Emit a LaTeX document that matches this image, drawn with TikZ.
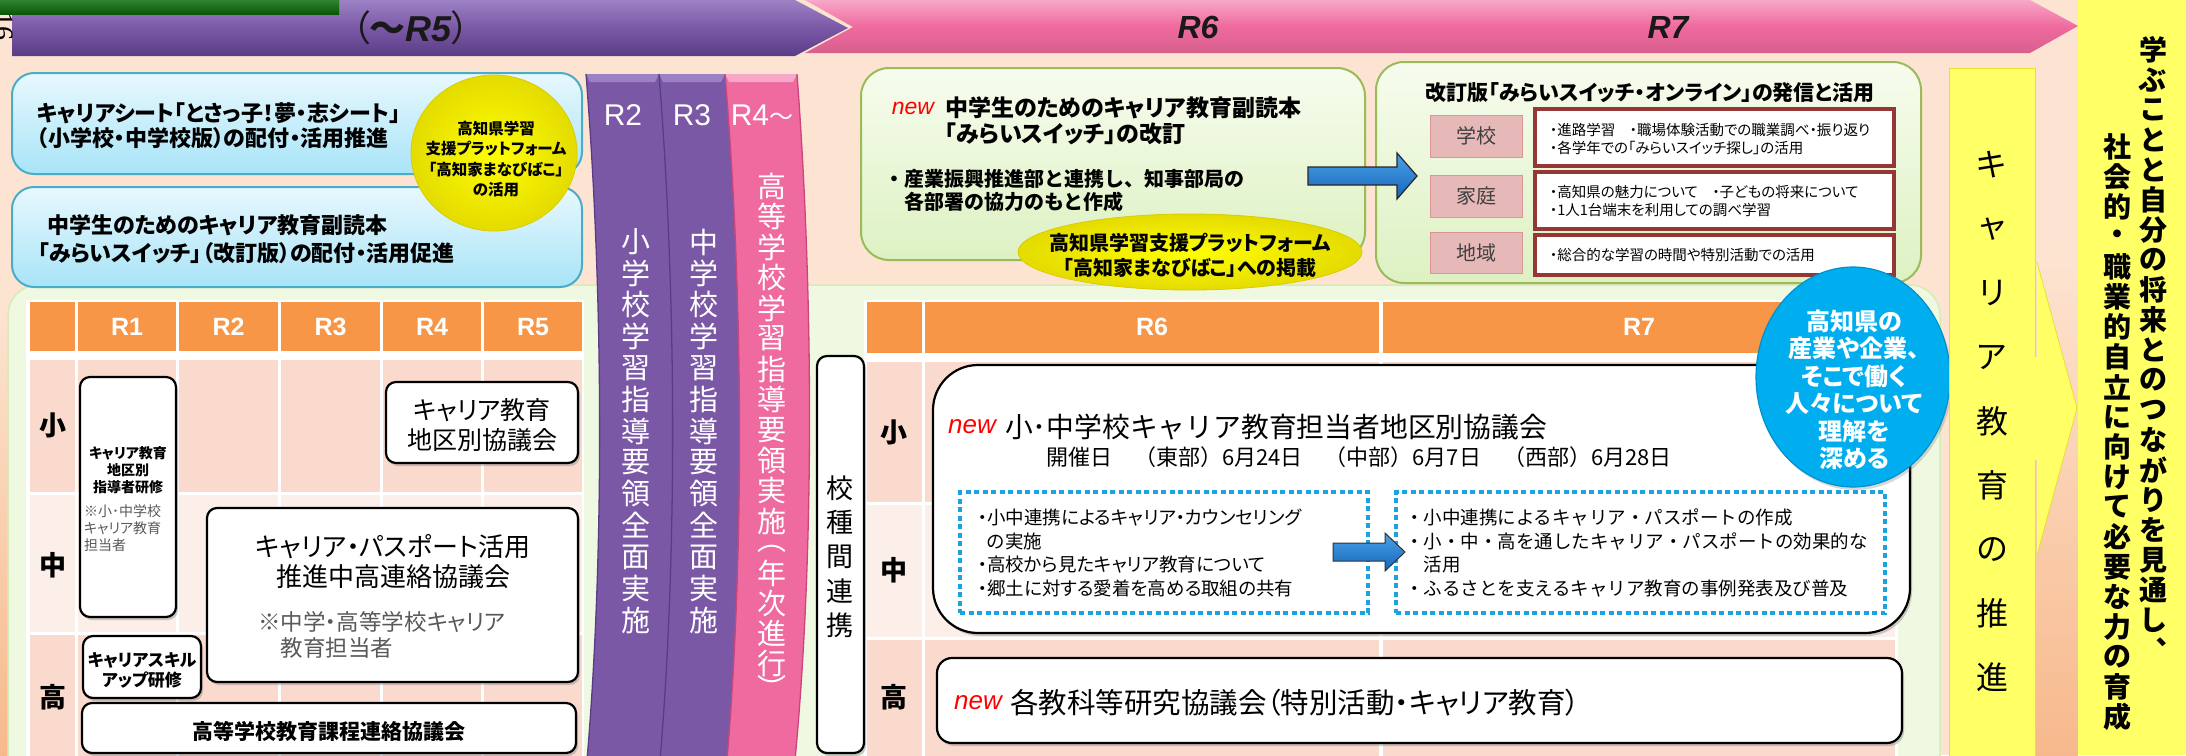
\documentclass[tikz,border=0pt]{standalone}
\usepackage{fontspec}
\setmainfont{Noto Sans CJK JP}[RawFeature={+palt}]
\newfontfamily\jp{Noto Sans CJK JP}
\newfontfamily\lat{Liberation Sans}
\newfontfamily\latser{Liberation Serif}
\usetikzlibrary{shadows,shapes.geometric}
\definecolor{bgpeach}{HTML}{FDE4D2}
\definecolor{bgorange}{HTML}{F7B98C}
\definecolor{dkgreen}{HTML}{0B6E0B}
\definecolor{purp}{HTML}{7B58A6}
\definecolor{purpL}{HTML}{9C82C4}
\definecolor{purpD}{HTML}{5A3C86}
\definecolor{pinkc}{HTML}{EF6A9E}
\definecolor{pinkL}{HTML}{F7A7C7}
\definecolor{pinkD}{HTML}{C9467C}
\definecolor{hdr}{HTML}{F79646}
\definecolor{cellp}{HTML}{FADACD}
\definecolor{celll}{HTML}{FCEEE8}
\definecolor{lgreen}{HTML}{EFF8E0}
\definecolor{lgreenb}{HTML}{D6ECB6}
\definecolor{gbox}{HTML}{DDF1C2}
\definecolor{gboxL}{HTML}{F7FCEE}
\definecolor{gboxb}{HTML}{9BBB59}
\definecolor{lblue}{HTML}{A8E4F8}
\definecolor{lblueL}{HTML}{E8F8FD}
\definecolor{lblueb}{HTML}{4BACC6}
\definecolor{yel}{HTML}{FFFF66}
\definecolor{yelb}{HTML}{FFFF00}
\definecolor{yelD}{HTML}{D9CC00}
\definecolor{labc}{HTML}{E6B9B8}
\definecolor{labb}{HTML}{D99694}
\definecolor{labt}{HTML}{404040}
\definecolor{cboxb}{HTML}{953735}
\definecolor{dotc}{HTML}{1AA3E0}
\definecolor{cir}{HTML}{00AEEF}
\definecolor{cirD}{HTML}{0090CC}
\definecolor{arrB}{HTML}{1565B8}
\definecolor{arrL}{HTML}{4AA3E8}
\definecolor{newred}{HTML}{FF0000}
\definecolor{notegray}{HTML}{595959}
\newcommand{\fsl}[2]{\fontsize{#1}{#2}\selectfont}
\tikzset{
 tx/.style={inner sep=0pt, outer sep=0pt},
 wbox/.style={draw=black, line width=2.2pt, fill=white, rounded corners=10pt, inner sep=0pt,
   drop shadow={opacity=0.4, shadow xshift=2pt, shadow yshift=-3pt}},
 hdrtxt/.style={tx, text=white, font=\lat\bfseries\fsl{25}{25}},
 rowlab/.style={tx, font=\bfseries\fsl{27}{27}},
 bartxt/.style={tx, text=white, font=\lat\fsl{30}{30}},
 barv/.style={tx, text=white, font=\fsl{29}{29}},
 newtxt/.style={tx, text=newred, font=\lat\itshape\fsl{26}{26}},
 dotbox/.style={draw=dotc, line width=4.5pt, dash pattern=on 5pt off 3.5pt, inner sep=0pt},
 lbbox/.style={draw=lblueb, line width=2pt, top color=lblueL, bottom color=lblue, rounded corners=22pt, inner sep=0pt},
 gbbox/.style={draw=gboxb, line width=2pt, top color=gboxL, bottom color=gbox, rounded corners=28pt, inner sep=0pt},
 yell/.style={ellipse, inner sep=0pt, draw=yelD, line width=0.8pt, inner color=yelb, outer color=yelD!70!yelb},
 labcell/.style={fill=labc, draw=labb, line width=1pt, inner sep=0pt, font=\fsl{20}{20}, text=labt},
 cbox/.style={fill=white, draw=cboxb, line width=3.5pt, inner sep=0pt},
 vcol/.style={tx, font=\fsl{32}{32}},
 rcol/.style={tx, font=\bfseries\fsl{28}{28}},
}
\begin{document}
\begin{tikzpicture}[x=1pt,y=-1pt]
\useasboundingbox (0,0) rectangle (2186,755);
\clip (0,0) rectangle (2186,755);
% background
\fill[bgpeach] (0,0) rectangle (2186,755);
\shade[top color=bgpeach, bottom color=bgorange] (0,300) rectangle (9,755);
\shade[top color=bgpeach, bottom color=bgorange] (2035,250) rectangle (2078,755);
% light green panel
\draw[lgreenb, fill=lgreen, line width=1.5pt, rounded corners=30pt] (8,285) rectangle (1940,800);

% ---------- left table ----------
\fill[white] (26,300) rectangle (584,760);
\foreach \a/\b in {30/75,78/176,179/278,281/380,383/481,484/582} {
  \fill[hdr] (\a,302) rectangle (\b,351);
  \fill[cellp] (\a,360) rectangle (\b,492);
  \fill[celll] (\a,495) rectangle (\b,632);
  \fill[cellp] (\a,635) rectangle (\b,760);
}
\node[hdrtxt] (h1) at (127,327) {R1};
\node[hdrtxt] (h2) at (228.5,327) {R2};
\node[hdrtxt] (h3) at (330.5,327) {R3};
\node[hdrtxt] (h4) at (432,327) {R4};
\node[hdrtxt] (h5) at (533,327) {R5};
\node[rowlab] (l1) at (53,425) {小};
\node[rowlab] (l2) at (53,565) {中};
\node[rowlab] (l3) at (53,697) {高};

\node[wbox, minimum width=96pt, minimum height=240pt] (k1) at (128,497) {};
\node[tx, align=center, font=\bfseries\fsl{14}{17}] (k1t) at (128,470) {キャリア教育\\地区別\\指導者研修};
\node[tx, anchor=north west, align=left, text=notegray, font=\fsl{14}{17}] (k1n) at (84,505) {※小･中学校\\キャリア教育\\担当者};

\node[wbox, minimum width=192pt, minimum height=81pt] (k2) at (482,422.5) {};
\node[tx, align=center, font=\fsl{25}{30}] (k2t) at (482,425) {キャリア教育\\地区別協議会};

\node[wbox, minimum width=371pt, minimum height=174pt] (k3) at (392.5,595) {};
\node[tx, align=center, font=\fsl{26}{30}] (k3t) at (393,562) {キャリア・パスポート活用\\推進中高連絡協議会};
\node[tx, anchor=north west, align=left, text=notegray, font=\fsl{22.5}{26}] (k3n) at (258,611) {※中学・高等学校キャリア\\\hphantom{※}教育担当者};

\node[wbox, minimum width=118pt, minimum height=62pt] (k4) at (142,667) {};
\node[tx, align=center, font=\bfseries\fsl{17}{20}] (k4t) at (142,670) {キャリアスキル\\アップ研修};

\node[wbox, minimum width=494pt, minimum height=50pt] (k5) at (329,728) {};
\node[tx, font=\bfseries\fsl{21}{21}] (k5t) at (329,731) {高等学校教育課程連絡協議会};

% ---------- right table ----------
\fill[white] (864,300) rectangle (1898,760);
\foreach \a/\b in {867/922,925/1379,1383/1895} {
  \fill[hdr] (\a,302) rectangle (\b,353);
  \fill[cellp] (\a,362) rectangle (\b,502);
  \fill[celll] (\a,505) rectangle (\b,637);
  \fill[cellp] (\a,640) rectangle (\b,760);
}
\node[hdrtxt] (h6) at (1152,327) {R6};
\node[hdrtxt] (h7) at (1639,327) {R7};
\node[rowlab] (l4) at (894,432) {小};
\node[rowlab] (l5) at (894,570) {中};
\node[rowlab] (l6) at (894,697) {高};

\node[wbox, minimum width=47pt, minimum height=397pt] (ks) at (840.5,554.5) {};
\foreach \c [count=\i from 0] in {校,種,間,連,携} {\node[tx, font=\fsl{27}{27}] (ks\i) at (840,488+\i*34.3) {\c};}

\node[wbox, rounded corners=45pt, minimum width=977pt, minimum height=268pt] (B) at (1421.5,499) {};
\node[newtxt] (n1) at (972,427) {new};
\node[tx, anchor=west, font=\jp\fsl{27.8}{27.8}] (Bt) at (1005,427) {小･中学校キャリア教育担当者地区別協議会};
\node[tx, anchor=west, font=\jp\fsl{22}{22}] (Bd) at (1046,457) {開催日　（東部）6月24日　（中部）6月7日　（西部）6月28日};
\node[dotbox, minimum width=408pt, minimum height=121pt] (db1) at (1164,552.5) {};
\node[dotbox, minimum width=489pt, minimum height=121pt] (db2) at (1640.5,552.5) {};
\node[tx, anchor=west, align=left, font=\fsl{18.5}{23.5}] (db1t) at (978,553) {・小中連携によるキャリア・カウンセリング\\\hphantom{・}の実施\\・高校から見たキャリア教育について\\・郷土に対する愛着を高める取組の共有};
\node[tx, anchor=west, align=left, font=\jp\fsl{18.5}{23.5}] (db2t) at (1405,553) {・小中連携によるキャリア・パスポートの作成\\・小・中・高を通したキャリア・パスポートの効果的な\\\hphantom{・}活用\\・ふるさとを支えるキャリア教育の事例発表及び普及};
\shadedraw[top color=arrL, bottom color=arrB, draw=black!80, line width=1pt] (1333,543) -- (1385,543) -- (1385,533) -- (1405,552) -- (1385,571) -- (1385,561) -- (1333,561) -- cycle;

\node[wbox, rounded corners=15pt, minimum width=965pt, minimum height=85pt] (C) at (1419.5,700.5) {};
\node[newtxt] (n2) at (978,703) {new};
\node[tx, anchor=west, font=\fsl{28.5}{28.5}] (Ct) at (1010,703) {各教科等研究協議会（特別活動・キャリア教育）};

% ---------- vertical bars ----------
\fill[purp] (586,74) .. controls (604,300) and (604,560) .. (587,760) -- (660,760) .. controls (677,560) and (677,300) .. (659,74) -- cycle;
\fill[purp] (659,74) .. controls (677,300) and (677,560) .. (660,760) -- (727,760) .. controls (744,560) and (744,300) .. (725,74) -- cycle;
\fill[pinkc] (725,74) .. controls (744,300) and (744,560) .. (727,760) -- (795,760) .. controls (814,560) and (814,300) .. (797,74) -- cycle;
\fill[purpL] (586,74) -- (659,74) -- (655,82) -- (590,82) -- cycle;
\fill[purpL] (659,74) -- (725,74) -- (721,82) -- (663,82) -- cycle;
\fill[pinkL] (725,74) -- (797,74) -- (793,82) -- (729,82) -- cycle;
\draw[purpD, line width=1.3pt] (586,74) .. controls (604,300) and (604,560) .. (587,760);
\draw[purpD, line width=1.3pt] (659,74) .. controls (677,300) and (677,560) .. (660,760);
\draw[pinkD, line width=1.3pt] (725,74) .. controls (744,300) and (744,560) .. (727,760);
\draw[pinkD, line width=1.3pt] (797,74) .. controls (814,300) and (814,560) .. (795,760);
\node[bartxt] (b2) at (623,115) {R2};
\node[bartxt] (b3) at (692,115) {R3};
\node[bartxt] (b4) at (762,115) {R4{\jp\fsl{24}{24}～}};
\foreach \c [count=\i from 0] in {小,学,校,学,習,指,導,要,領,全,面,実,施} {\node[barv] (va\i) at (636,242+\i*31.5) {\c};}
\foreach \c [count=\i from 0] in {中,学,校,学,習,指,導,要,領,全,面,実,施} {\node[barv] (vb\i) at (704,242+\i*31.5) {\c};}
\foreach \c/\yy [count=\i] in {高/186,等/216.5,学/247,校/277.5,学/308,習/338.5,指/369,導/399.5,要/430,領/460.5,実/491,施/521.5,︵/549,年/573,次/603,進/633,行/663,︶/687} {\node[barv] (vc\i) at (772,\yy) {\c};}

% ---------- top arrows ----------
\shade[top color=pinkL, bottom color=pinkc!90!black, middle color=pinkc] (805,0) -- (2030,0) -- (2078,26) -- (2030,53) -- (805,53) -- (853,27) -- cycle;
\shade[top color=purpL, bottom color=purpD, middle color=purp] (12,0) -- (795,0) -- (848,28) -- (795,56) -- (12,56) -- cycle;
\shade[top color=dkgreen!85!white, bottom color=dkgreen!80!black] (0,0) rectangle (339,14);
\node[tx, rotate=-90, font=\latser\fsl{28}{28}] (pg) at (4,26) {16};
\node[tx, text=black!90, font=\fsl{36}{36}] (r5) at (411,28) {（{\bfseries ～}{\lat\bfseries\itshape R5}）};
\node[tx, text=black!90, font=\lat\bfseries\itshape\fsl{32}{32}] (r6) at (1198,27) {R6};
\node[tx, text=black!90, font=\lat\bfseries\itshape\fsl{32}{32}] (r7) at (1668,27) {R7};

% ---------- upper left boxes ----------
\node[lbbox, minimum width=570pt, minimum height=101pt] (lb1) at (297,123.5) {};
\node[lbbox, minimum width=570pt, minimum height=100pt] (lb2) at (297,237) {};
\node[tx, anchor=west, align=left, font=\bfseries\fsl{22}{25}] (lb1t) at (37,126) {キャリアシート「とさっ子！夢・志シート」\\（小学校・中学校版）の配付・活用推進};
\node[tx, anchor=west, align=left, font=\bfseries\fsl{22}{28}] (lb2t) at (38,239) {\hspace*{9pt}中学生のためのキャリア教育副読本\\「みらいスイッチ」（改訂版）の配付・活用促進};
\node[yell, minimum width=166pt, minimum height=156pt] (ye1) at (494,153) {};
\node[tx, align=center, font=\bfseries\fsl{15.5}{20.5}] (ye1t) at (496,159) {高知県学習\\支援プラットフォーム\\「高知家まなびばこ」\\の活用};

% ---------- upper right boxes ----------
\node[gbbox, minimum width=504pt, minimum height=192pt] (gb1) at (1113,164) {};
\node[newtxt, font=\lat\itshape\fsl{23}{23}] (n0) at (913,108) {new};
\node[tx, anchor=west, font=\bfseries\fsl{23}{23}] (gb1a) at (945,108) {中学生のためのキャリア教育副読本};
\node[tx, anchor=west, font=\bfseries\fsl{23}{23}] (gb1b) at (945,134) {「みらいスイッチ」の改訂};
\node[tx, anchor=west, align=left, font=\jp\bfseries\fsl{20}{23}] (gb1c) at (884,191) {・産業振興推進部と連携し、知事部局の\\\hspace*{20pt}各部署の協力のもと作成};
\node[yell, minimum width=344pt, minimum height=76pt] (ye2) at (1190,252) {};
\node[tx, align=center, font=\bfseries\fsl{20}{25}] (ye2t) at (1190,255) {高知県学習支援プラットフォーム\\「高知家まなびばこ」への掲載};

\node[gbbox, minimum width=545pt, minimum height=221pt] (gb2) at (1648.5,172.5) {};
\node[tx, font=\bfseries\fsl{21}{21}] (gb2t) at (1650,93) {改訂版「みらいスイッチ・オンライン」の発信と活用};
\node[labcell, minimum width=92pt, minimum height=42pt] (lc1) at (1476,136) {学校};
\node[labcell, minimum width=92pt, minimum height=42pt] (lc2) at (1476,196) {家庭};
\node[labcell, minimum width=92pt, minimum height=41pt] (lc3) at (1476,252.5) {地域};
\node[cbox, minimum width=359pt, minimum height=57pt] (cb1) at (1714.5,137.5) {};
\node[cbox, minimum width=359pt, minimum height=57pt] (cb2) at (1714.5,200.5) {};
\node[cbox, minimum width=359pt, minimum height=40pt] (cb3) at (1714.5,255) {};
\node[tx, anchor=west, align=left, font=\fsl{14.5}{18}] (cb1t) at (1550,139) {・進路学習　・職場体験活動での職業調べ・振り返り\\・各学年での「みらいスイッチ探し」の活用};
\node[tx, anchor=west, align=left, font=\fsl{14.5}{18}] (cb2t) at (1550,201.5) {・高知県の魅力について　・子どもの将来について\\・1人1台端末を利用しての調べ学習};
\node[tx, anchor=west, font=\fsl{14.5}{18}] (cb3t) at (1550,255) {・総合的な学習の時間や特別活動での活用};
\shadedraw[top color=arrL, bottom color=arrB, draw=black!85, line width=1.2pt] (1308,167) -- (1397,167) -- (1397,153) -- (1417,176) -- (1397,199) -- (1397,185) -- (1308,185) -- cycle;

% ---------- blue circle ----------
\node[ellipse, minimum width=194pt, minimum height=220pt, inner sep=0pt, fill=cir, draw=cirD, line width=1.2pt,
  drop shadow={opacity=0.3, shadow xshift=2pt, shadow yshift=-3pt}] (bc) at (1853,377) {};
\node[tx, align=center, text=white, font=\bfseries\fsl{24}{27.5}] (bct) at (1854,390) {高知県の\\産業や企業、\\そこで働く\\人々について\\理解を\\深める};

% ---------- yellow column and panel ----------
\node[tx, fill=yel, draw=yelD!60!yel, line width=0.8pt, minimum width=86pt, minimum height=700pt, anchor=north] (yc) at (1992,68) {};
\foreach \c [count=\i from 0] in {キ,ャ,リ,ア,教,育,の,推,進} {\node[vcol] (yc\i) at (1992,165+\i*64) {\c};}
\fill[yel] (2030,357) rectangle (2046,460);
\fill[yel] (2037,262) -- (2077,408) -- (2037,555) -- cycle;
\draw[yelD!70!yel, line width=0.6pt] (2037,262) -- (2077,408) -- (2037,555);
\fill[yel] (2078,0) rectangle (2186,755);
\foreach \c [count=\i from 0] in {学,ぶ,こ,と,と,自,分,の,将,来,と,の,つ,な,が,り,を,見,通,し,︑} {\node[rcol] (ra\i) at (2153,50+\i*30) {\c};}
\foreach \c [count=\i from 0] in {社,会,的,・,職,業,的,自,立,に,向,け,て,必,要,な,力,の,育,成} {\node[rcol] (rb\i) at (2117,147+\i*30) {\c};}
\end{tikzpicture}
\end{document}
